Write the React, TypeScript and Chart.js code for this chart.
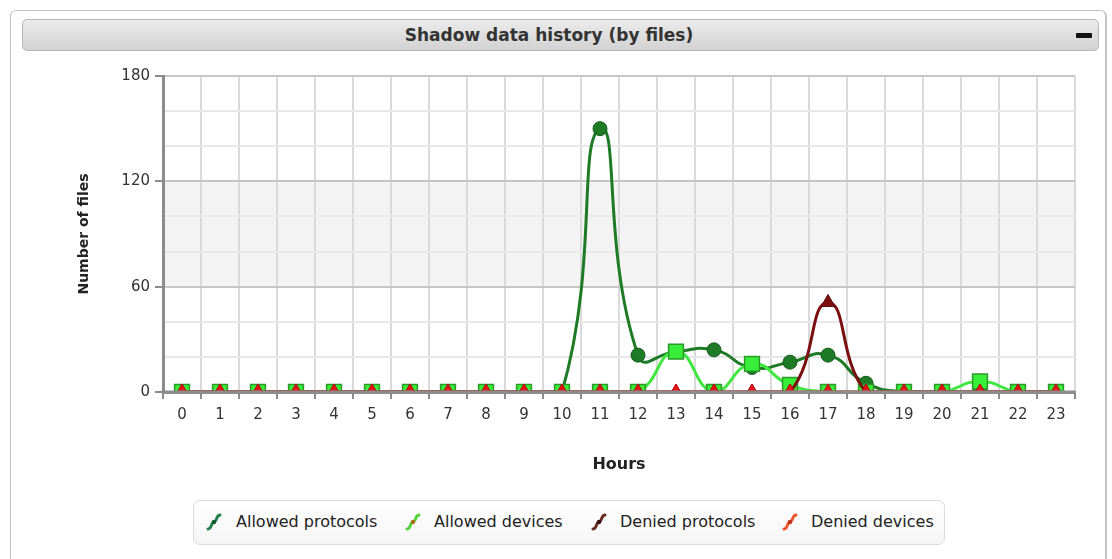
import React, { useEffect, useRef } from 'react';
import { Chart, registerables } from 'chart.js';

Chart.register(...registerables);

const hours = ['0', '1', '2', '3', '4', '5', '6', '7', '8', '9', '10', '11', '12', '13', '14', '15', '16', '17', '18', '19', '20', '21', '22', '23'];
const allowedProtocols = [0, 0, 0, 0, 0, 0, 0, 0, 0, 0, 0, 150, 21, 23, 24, 14, 17, 21, 5, 0, 0, 0, 0, 0];
const allowedDevices = [0, 0, 0, 0, 0, 0, 0, 0, 0, 0, 0, 0, 0, 23, 0, 16, 4, 0, 0, 0, 0, 6, 0, 0];
const deniedProtocols = [0, 0, 0, 0, 0, 0, 0, 0, 0, 0, 0, 0, 0, 0, 0, 0, 0, 51, 0, 0, 0, 0, 0, 0];
const deniedDevices = [0, 0, 0, 0, 0, 0, 0, 0, 0, 0, 0, 0, 0, 0, 0, 0, 0, 0, 0, 0, 0, 0, 0, 0];
const yLabelTicks = [0, 60, 120, 180];

const seriesNames = ['Allowed protocols', 'Allowed devices', 'Denied protocols', 'Denied devices'];
const legendColors = ['#23804a', '#4fd23a', '#6a2a22', '#f0542a'];
const legendDots = ['#0f5a2a', '#b06a1a', '#3a1010', '#c0301a'];

const CANVAS_W = 1112;
const CANVAS_H = 495;

function LegendIcon({ color, dot }: { color: string; dot: string }) {
  return (
    <svg width="18" height="18" viewBox="0 0 18 18" style={{ display: 'block' }}>
      <path d="M3 16 C 7 16, 6 9, 9 9 S 11 2, 15 2" fill="none" stroke={color} strokeWidth="3" strokeLinecap="round" />
      <circle cx="9" cy="9" r="2.2" fill={dot} />
    </svg>
  );
}

export default function App() {
  const ref = useRef<HTMLCanvasElement>(null);

  useEffect(() => {
    if (!ref.current) return;
    const bandPlugin = {
      id: 'band',
      beforeDraw(chart: any) {
        const { ctx, chartArea, scales } = chart;
        const y = scales.y;
        const top = y.getPixelForValue(120);
        const bot = y.getPixelForValue(60);
        ctx.save();
        ctx.fillStyle = '#f3f3f3';
        ctx.fillRect(chartArea.left, top, chartArea.right - chartArea.left, bot - top);
        ctx.restore();
      },
    };
    const axisPlugin = {
      id: 'axisTop',
      afterDatasetsDraw(chart: any) {
        const { ctx, chartArea } = chart;
        ctx.save();
        ctx.strokeStyle = '#8c8c8c';
        ctx.lineWidth = 3;
        ctx.beginPath();
        ctx.moveTo(chartArea.left - 1.5, chartArea.bottom);
        ctx.lineTo(chartArea.right, chartArea.bottom);
        ctx.stroke();
        ctx.restore();
      },
    };

    const chart = new Chart(ref.current, {
      type: 'line',
      data: {
        labels: hours,
        datasets: [
          {
            label: seriesNames[0],
            data: allowedProtocols,
            borderColor: '#1d7a25',
            backgroundColor: '#1d7a25',
            pointBackgroundColor: '#1d7a25',
            pointBorderColor: '#145c1a',
            borderWidth: 3,
            pointStyle: 'circle',
            pointRadius: 7,
            pointBorderWidth: 1,
            tension: 0.55,
            order: 4,
          },
          {
            label: seriesNames[1],
            data: allowedDevices,
            borderColor: '#3ee83e',
            backgroundColor: '#3ee83e',
            pointBackgroundColor: '#38ee38',
            pointBorderColor: '#2a9a2a',
            borderWidth: 3,
            pointStyle: 'rect',
            pointRadius: 10.5,
            pointBorderWidth: 1.5,
            tension: 0.5,
            order: 3,
          },
          {
            label: seriesNames[2],
            data: deniedProtocols,
            borderColor: '#7a1010',
            backgroundColor: '#7a1010',
            pointBackgroundColor: '#7a1010',
            pointBorderColor: '#5a0a0a',
            borderWidth: 3,
            pointStyle: 'triangle',
            pointRadius: 8,
            pointBorderWidth: 1,
            tension: 0.5,
            order: 2,
          },
          {
            label: seriesNames[3],
            data: deniedDevices,
            borderColor: '#e8161b',
            backgroundColor: '#e8161b',
            pointBackgroundColor: '#e8161b',
            pointBorderColor: '#c01010',
            borderWidth: 3,
            pointStyle: 'triangle',
            pointRadius: 8,
            pointBorderWidth: 1,
            tension: 0.5,
            order: 1,
          },
        ],
      },
      options: {
        responsive: false,
        animation: false,
        layout: { padding: { top: 76, right: 37, left: 0, bottom: 0 } },
        plugins: {
          legend: { display: false },
          tooltip: { enabled: false },
        },
        scales: {
          x: {
            type: 'category',
            offset: true,
            grid: {
              offset: true,
              color: '#dadada',
              lineWidth: 2,
              tickLength: 7,
              tickColor: '#8c8c8c',
              tickWidth: 2,
            },
            border: { display: true, color: '#8c8c8c', width: 3 },
            ticks: {
              color: '#333',
              font: { family: 'DejaVu Sans', size: 15 },
              padding: 7,
              maxRotation: 0,
              autoSkip: false,
            },
            title: {
              display: true,
              text: 'Hours',
              color: '#222',
              font: { family: 'DejaVu Sans', size: 16, weight: 'bold' },
              padding: { top: 0, bottom: 21 },
            },
            afterFit: (s: any) => {
              s.height = CANVAS_H - 392;
            },
          } as any,
          y: {
            min: 0,
            max: 180,
            grid: {
              color: (c: any) => (yLabelTicks.includes(c.tick?.value) ? '#c6c6c6' : '#e8e8e8'),
              lineWidth: 2,
              tickLength: 8,
              tickColor: (c: any) => (yLabelTicks.includes(c.tick?.value) ? '#8c8c8c' : 'rgba(0,0,0,0)'),
              tickWidth: 2,
            },
            border: { display: true, color: '#8c8c8c', width: 3 },
            ticks: {
              stepSize: 20,
              color: '#333',
              font: { family: 'DejaVu Sans', size: 15 },
              padding: 5,
              callback: (v: any) => (yLabelTicks.includes(Number(v)) ? String(v) : ''),
            },
            title: {
              display: true,
              text: 'Number of files',
              color: '#222',
              font: { family: 'DejaVu Sans', size: 14, weight: 'bold' },
              padding: { top: 76, bottom: 0 },
            },
            afterFit: (s: any) => {
              s.width = 163;
            },
          } as any,
        },
      },
      plugins: [bandPlugin, axisPlugin],
    } as any);
    return () => chart.destroy();
  }, []);

  const legendIconX = [205, 404, 590, 781];
  const legendTextX = [236, 434, 620, 811];

  return (
    <div style={{ position: 'fixed', left: 0, top: 0, width: 1112, height: 559, overflow: 'hidden', background: '#fff', fontFamily: 'DejaVu Sans' }}>
      <div
        style={{
          position: 'absolute',
          left: 10,
          top: 10,
          width: 1097,
          height: 600,
          border: '1px solid #c4c4c4',
          borderRightWidth: 2,
          borderRadius: 6,
          boxSizing: 'border-box',
          background: '#fff',
        }}
      />
      <div
        style={{
          position: 'absolute',
          left: 22,
          top: 19,
          width: 1077,
          height: 32,
          border: '1px solid #b8b8b8',
          borderRadius: 5,
          boxSizing: 'border-box',
          background: 'linear-gradient(#ebebeb, #d2d2d2)',
        }}
      />
      <div
        style={{
          position: 'absolute',
          left: 0,
          top: 19,
          width: 1098,
          height: 32,
          lineHeight: '32px',
          textAlign: 'center',
          fontFamily: 'DejaVu Sans',
          fontWeight: 'bold',
          fontSize: 17,
          color: '#333',
        }}
      >
        Shadow data history (by files)
      </div>
      <div style={{ position: 'absolute', left: 1076, top: 33, width: 16, height: 5, background: '#111', borderRadius: 1 }} />
      <canvas ref={ref} width={CANVAS_W} height={CANVAS_H} style={{ position: 'absolute', left: 0, top: 0, width: CANVAS_W, height: CANVAS_H }} />
      <div
        style={{
          position: 'absolute',
          left: 193,
          top: 500,
          width: 752,
          height: 45,
          border: '1px solid #dcdcdc',
          borderRadius: 7,
          boxSizing: 'border-box',
          background: 'linear-gradient(#ffffff, #f5f5f5)',
        }}
      />
      {seriesNames.map((name, i) => (
        <React.Fragment key={name}>
          <div style={{ position: 'absolute', left: legendIconX[i], top: 513 }}>
            <LegendIcon color={legendColors[i]} dot={legendDots[i]} />
          </div>
          <div
            style={{
              position: 'absolute',
              left: legendTextX[i],
              top: 511,
              height: 22,
              lineHeight: '22px',
              fontFamily: 'DejaVu Sans',
              fontSize: 16,
              color: '#222',
              whiteSpace: 'nowrap',
            }}
          >
            {name}
          </div>
        </React.Fragment>
      ))}
    </div>
  );
}
